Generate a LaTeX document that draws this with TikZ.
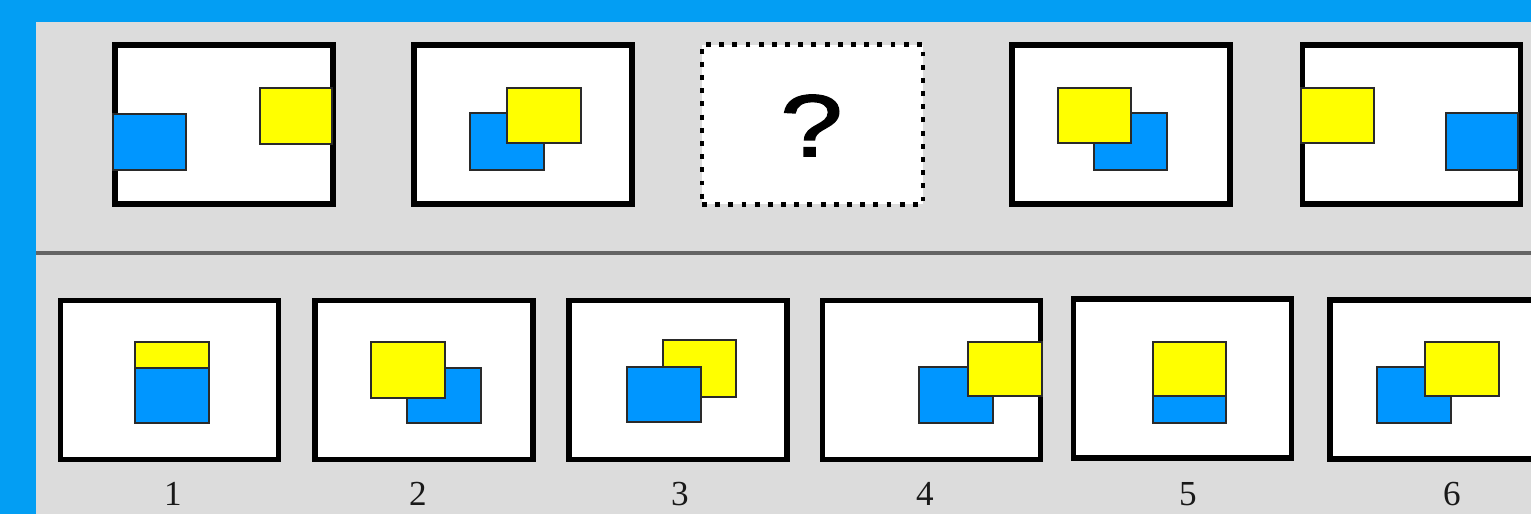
\documentclass[tikz,border=0pt]{standalone}
\usepackage{fontspec}
\setmainfont{Liberation Serif}
\setsansfont{Liberation Sans}
\newfontfamily\qmfont[FakeBold=1.6]{Liberation Sans}
\usepackage{xcolor}
\usepackage{tikz}
\usetikzlibrary{positioning}
\definecolor{cSky}{HTML}{039EF3}
\definecolor{cPanel}{HTML}{DCDCDC}
\definecolor{cRule}{HTML}{646464}
\definecolor{cBlue}{HTML}{0096FF}
\definecolor{cYellow}{HTML}{FFFF00}
\definecolor{cEdge}{HTML}{2A2A2A}
\tikzset{
  frame/.style={draw=black,fill=white,line width=3.1pt,minimum width=4.36cm,minimum height=3.18cm,inner sep=0pt},
  qframe/.style={frame,line width=2.3pt,dash pattern=on 2.8pt off 4.7pt,minimum width=4.42cm,minimum height=3.2cm},
  bsq/.style={draw=cEdge,fill=cBlue,line width=0.7pt},
  ysq/.style={draw=cEdge,fill=cYellow,line width=0.7pt},
  num/.style={font=\fontsize{20}{20}\selectfont,text=black!90,inner sep=0pt},
}

\begin{document}
\begin{tikzpicture}[x=0.02cm,y=-0.02cm]
  \useasboundingbox (0,0) rectangle (1531,514);
  \clip (0,0) rectangle (1531,514);
  \fill[cSky] (0,0) rectangle (1531,514);
  \fill[cPanel] (36,22) rectangle (1531,514);
  \coordinate (rl) at (36,253);
  \coordinate (rr) at (1531,253);
  \draw[cRule,line width=2.1pt] (rl) -- (rr);

  % question row
  \node[frame]  (t1) at (224,124.5) {};
  \node[frame]  (t2) at (523,124.5) {};
  \node[qframe] (t3) at (812.5,124.5) {};
  \node[frame]  (t4) at (1121,124.5) {};
  \node[frame]  (t5) at (1411.5,124.5) {};
  \node[font=\qmfont\fontsize{50}{50}\selectfont,inner sep=0pt] (qm) at (811.5,125.5) {\scalebox{1.28}[1]{?}};

  \draw[bsq] (113,114) rectangle (186,170);
  \draw[ysq] (260,88) rectangle (332,144);
  \draw[bsq] (470,113) rectangle (544,170);
  \draw[ysq] (507,88) rectangle (581,143);
  \draw[bsq] (1094,113) rectangle (1167,170);
  \draw[ysq] (1058,88) rectangle (1131,143);
  \draw[ysq] (1301,88) rectangle (1374,143);
  \draw[bsq] (1446,113) rectangle (1518,170);

  % answer row
  \node[frame] (a1) at (169.5,380) {};
  \node[frame] (a2) at (424,380) {};
  \node[frame] (a3) at (678,380) {};
  \node[frame] (a4) at (931.5,380) {};
  \node[frame] (a5) at (1182.5,378.5) {};
  \node[frame] (a6) at (1439,379.5) {};

  \draw[ysq] (135,342) rectangle (209,398);
  \draw[bsq] (135,368) rectangle (209,423);
  \draw[bsq] (407,368) rectangle (481,423);
  \draw[ysq] (371,342) rectangle (445,398);
  \draw[ysq] (663,340) rectangle (736,397);
  \draw[bsq] (627,367) rectangle (701,422);
  \draw[bsq] (919,367) rectangle (993,423);
  \draw[ysq] (968,342) rectangle (1042,396);
  \draw[bsq] (1153,368) rectangle (1226,423);
  \draw[ysq] (1153,342) rectangle (1226,396);
  \draw[bsq] (1377,367) rectangle (1451,423);
  \draw[ysq] (1425,342) rectangle (1499,396);

  \node[num] (n1) at (173,494) {1};
  \node[num] (n2) at (418,494) {2};
  \node[num] (n3) at (680,494) {3};
  \node[num] (n4) at (925,494) {4};
  \node[num] (n5) at (1188,494) {5};
  \node[num] (n6) at (1452,494) {6};
\end{tikzpicture}
\end{document}
